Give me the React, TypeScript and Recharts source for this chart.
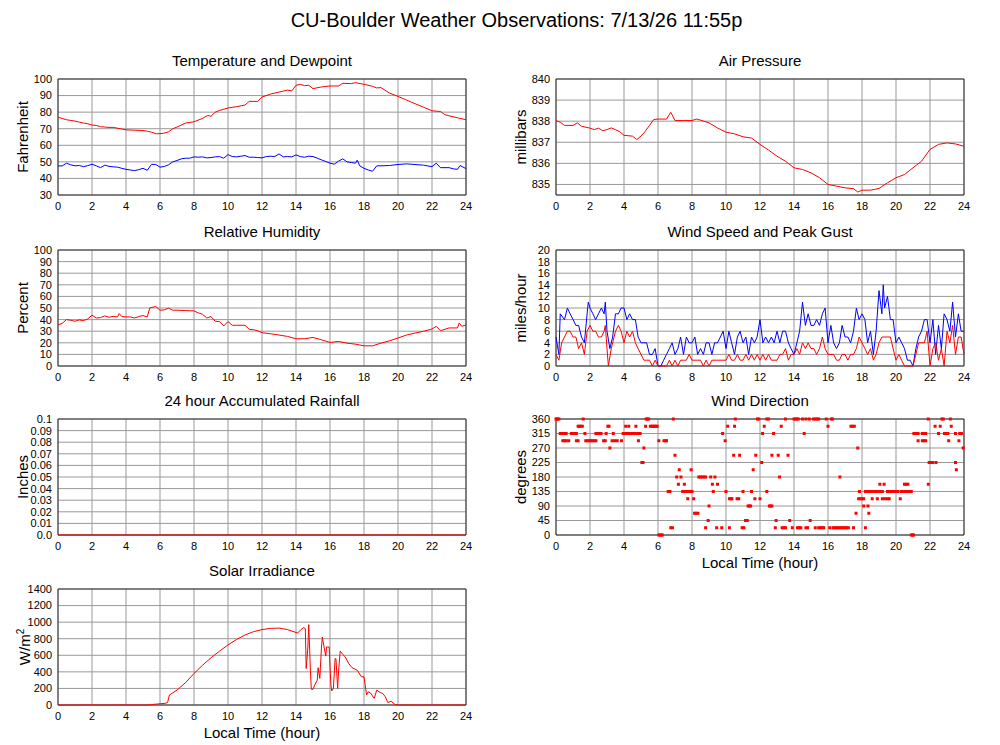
import React from 'react';
import {
  ComposedChart,
  Line,
  Scatter,
  XAxis,
  YAxis,
  CartesianGrid,
  ReferenceArea,
} from 'recharts';

// hour ticks shared by every panel
const hourTicks = [0, 2, 4, 6, 8, 10, 12, 14, 16, 18, 20, 22, 24];

// [hour, value] readings
const temperature = [
  [0, 76.9], [0.25, 76.2], [0.5, 75.4], [0.75, 75], [1, 74.6], [1.25, 74], [1.5, 73.4], [1.75, 73],
  [2, 72.2], [2.25, 72], [2.5, 71.2], [2.75, 71], [3, 70.8], [3.25, 70.8], [3.5, 70.3], [3.75, 69.8],
  [4, 69.3], [4.5, 69.1], [5, 68.9], [5.25, 68.5], [5.5, 67.9], [5.8, 66.9], [6.2, 67.2], [6.5, 68.1],
  [6.75, 70], [7, 71], [7.5, 73.4], [8, 74.2], [8.5, 76.2], [8.8, 78], [9, 77.5], [9.25, 80],
  [9.5, 81], [10, 82.5], [10.5, 83.3], [11, 84.3], [11.25, 86.5], [11.75, 86.5], [12, 89.1], [12.5, 90.9],
  [13, 92.1], [13.5, 93.3], [13.75, 92.8], [14, 96.2], [14.25, 96.8], [14.5, 96], [14.75, 96.2], [15, 94.2],
  [15.5, 95.2], [16, 95.8], [16.5, 95.8], [16.75, 97.4], [17.25, 97.2], [17.5, 97.8], [18, 96.8], [18.5, 95.6],
  [18.75, 94.6], [19, 94.8], [19.5, 91.5], [20, 89.5], [20.5, 87.3], [21, 85.1], [21.5, 83], [22, 80.8],
  [22.5, 80.4], [22.75, 78.5], [23, 77.8], [23.5, 76.6], [24, 75.4],
];

const dewpoint = [
  [0, 47.5], [0.25, 47.6], [0.5, 49.2], [0.75, 48.2], [1, 47.6], [1.25, 47.8], [1.5, 47.1], [1.75, 47.7],
  [2, 48.6], [2.25, 47.6], [2.5, 46.5], [2.75, 48], [3, 47.3], [3.25, 47], [3.5, 46.8], [3.75, 46.1],
  [4, 45.5], [4.25, 45.1], [4.5, 44.7], [4.75, 45.3], [5, 46.1], [5.25, 44.9], [5.5, 48.5], [5.75, 48.4],
  [6, 46.8], [6.25, 47.2], [6.5, 48.2], [6.75, 50], [7, 50.8], [7.25, 51.8], [7.5, 52.2], [7.75, 52.2],
  [8, 53], [8.25, 52.8], [8.5, 53], [8.75, 52.4], [9, 52.6], [9.25, 53], [9.5, 53.2], [9.75, 52.2],
  [10, 54.4], [10.25, 53.2], [10.5, 53], [10.75, 53.4], [11, 53.8], [11.25, 52.8], [11.5, 52.8], [11.75, 52.6],
  [12, 52.4], [12.25, 53.2], [12.5, 53.4], [12.75, 53.2], [13, 54.8], [13.25, 53], [13.5, 53.2], [13.75, 53],
  [14, 54.2], [14.25, 53.2], [14.5, 52.8], [14.75, 53.4], [15, 53.2], [15.25, 52.2], [15.5, 51.2], [15.75, 50.2],
  [16, 49.2], [16.25, 48.6], [16.5, 50.4], [16.75, 51.8], [17, 50], [17.25, 49.6], [17.5, 49.2], [17.6, 51],
  [17.75, 47.6], [18, 46.1], [18.25, 45.1], [18.5, 44.3], [18.75, 47.6], [19, 47.6], [19.5, 47.8], [20, 48.4],
  [20.5, 48.8], [21, 48.4], [21.5, 48], [22, 47.1], [22.25, 49.2], [22.5, 46.5], [23, 46.5], [23.25, 45.8],
  [23.5, 45.5], [23.65, 47.8], [24, 45.9],
];

const humidity = [
  [0, 35.4], [0.25, 36.8], [0.5, 40], [0.75, 39.4], [1, 38.6], [1.25, 39.7], [1.5, 39.1], [1.75, 40.6],
  [2, 43.8], [2.25, 41.4], [2.5, 41.7], [2.75, 43.2], [3, 42], [3.25, 42.8], [3.5, 42.3], [3.6, 45.2],
  [3.75, 42.6], [4, 42.3], [4.25, 42.3], [4.5, 41.4], [4.75, 42.6], [5, 43.5], [5.25, 42.3], [5.4, 50.1],
  [5.75, 51.3], [6, 48.1], [6.25, 48.4], [6.5, 49.9], [6.75, 48.1], [7, 48.1], [7.5, 47.8], [8, 47.5],
  [8.25, 45.8], [8.5, 44.6], [8.75, 41.4], [9, 42.6], [9.25, 38.6], [9.5, 38.3], [9.75, 34.5], [10, 38.3],
  [10.25, 35.1], [10.5, 35.1], [11, 35.1], [11.25, 31.6], [11.5, 31.3], [11.75, 30.4], [12, 28.7], [12.5, 27.8],
  [13, 26.7], [13.5, 25.5], [14, 23.5], [14.5, 23.5], [15, 24.6], [15.5, 22.6], [16, 20.3], [16.5, 21.2],
  [17, 19.7], [17.5, 18.8], [18, 17.4], [18.5, 17.4], [19, 19.7], [19.5, 21.7], [20, 24.1], [20.5, 26.7],
  [21, 28.4], [21.5, 29.9], [22, 31.9], [22.25, 34.2], [22.5, 30.4], [23, 32.8], [23.5, 32.8], [23.6, 37.1],
  [23.75, 34.2], [24, 35.4],
];

const rainfall = [
  [0, 0], [24, 0],
];

const solar = [
  [0, 0], [5.3, 0], [5.5, 5], [6, 15], [6.3, 20], [6.45, 30], [6.55, 120], [7, 180],
  [7.5, 270], [8, 380], [8.5, 480], [9, 570], [9.5, 650], [10, 725], [10.5, 790], [11, 845],
  [11.5, 885], [12, 910], [12.5, 925], [13, 928], [13.5, 910], [14, 875], [14.1, 870], [14.3, 910],
  [14.45, 935], [14.55, 920], [14.6, 440], [14.7, 700], [14.75, 970], [14.85, 400], [14.9, 190], [15, 190],
  [15.1, 240], [15.25, 300], [15.3, 450], [15.4, 320], [15.5, 700], [15.55, 820], [15.65, 700], [15.75, 590],
  [15.8, 700], [15.95, 700], [16.05, 250], [16.1, 170], [16.2, 200], [16.3, 560], [16.35, 560], [16.45, 200],
  [16.5, 400], [16.6, 650], [16.75, 610], [16.9, 580], [17.1, 500], [17.3, 450], [17.6, 420], [17.85, 340],
  [18, 340], [18.15, 120], [18.25, 160], [18.4, 140], [18.6, 80], [18.75, 180], [18.95, 150], [19.1, 140],
  [19.25, 100], [19.4, 30], [19.6, 45], [19.8, 10], [20, 0], [24, 0],
];

const pressure = [
  [0, 838.03], [0.25, 837.95], [0.5, 837.8], [1, 837.8], [1.25, 837.92], [1.5, 837.76], [2, 837.67], [2.25, 837.6],
  [2.5, 837.67], [2.75, 837.55], [3, 837.6], [3.25, 837.68], [3.5, 837.6], [3.75, 837.5], [4, 837.33], [4.5, 837.29],
  [4.75, 837.13], [5, 837.29], [5.25, 837.52], [5.5, 837.8], [5.75, 838.08], [6, 838.1], [6.5, 838.1], [6.75, 838.42],
  [7, 838.03], [7.5, 838.03], [8, 838.03], [8.25, 838.1], [8.5, 838.05], [9, 837.92], [9.5, 837.68], [10, 837.48],
  [10.5, 837.4], [11, 837.26], [11.5, 837.2], [12, 836.9], [12.5, 836.63], [13, 836.34], [13.5, 836.1], [14, 835.79],
  [14.5, 835.71], [15, 835.55], [15.5, 835.32], [16, 835], [16.5, 834.92], [17, 834.84], [17.5, 834.8], [17.75, 834.64],
  [18, 834.73], [18.5, 834.73], [19, 834.81], [19.5, 835.08], [20, 835.32], [20.5, 835.47], [21, 835.79], [21.5, 836.1],
  [22, 836.66], [22.5, 836.9], [23, 836.97], [23.5, 836.92], [24, 836.81],
];

const gust = [
  [0, 5], [0.17, 2], [0.25, 9], [0.5, 8], [0.67, 10], [0.83, 9], [1, 8], [1.17, 7],
  [1.33, 7], [1.5, 5], [1.67, 4], [1.83, 9], [1.9, 11], [2, 10], [2.17, 9], [2.33, 8],
  [2.5, 9], [2.67, 10], [2.83, 9], [2.9, 11], [3, 6], [3.17, 3], [3.33, 5], [3.5, 9],
  [3.67, 9], [3.83, 10], [4, 10], [4.17, 8], [4.33, 9], [4.5, 8], [4.67, 8], [4.83, 5],
  [5, 4], [5.17, 4], [5.33, 4], [5.5, 2], [5.67, 2], [5.83, 3], [6, 0], [6.17, 0],
  [6.33, 1], [6.5, 2], [6.67, 3], [6.83, 4], [7, 2], [7.17, 3], [7.33, 5], [7.5, 2],
  [7.67, 5], [7.83, 4], [8, 4], [8.17, 5], [8.33, 2], [8.5, 3], [8.67, 2], [8.83, 4],
  [9, 4], [9.17, 2], [9.33, 4], [9.5, 4], [9.67, 5], [9.83, 6], [10, 3], [10.17, 6],
  [10.33, 4], [10.5, 2], [10.67, 5], [10.83, 6], [11, 4], [11.17, 5], [11.33, 2], [11.5, 5],
  [11.67, 4], [11.83, 5], [12, 8], [12.17, 4], [12.33, 5], [12.5, 4], [12.67, 5], [12.83, 4],
  [13, 6], [13.17, 4], [13.33, 6], [13.5, 6], [13.67, 4], [13.83, 3], [14, 2], [14.17, 4],
  [14.33, 6], [14.5, 11], [14.67, 7], [14.83, 9], [15, 7], [15.17, 7], [15.33, 8], [15.5, 7],
  [15.67, 9], [15.83, 10], [16, 4], [16.17, 7], [16.33, 4], [16.5, 3], [16.67, 4], [16.83, 7],
  [17, 5], [17.17, 5], [17.33, 4], [17.5, 6], [17.67, 10], [17.83, 8], [18, 9], [18.17, 8],
  [18.33, 4], [18.5, 6], [18.67, 2], [18.83, 6], [19, 13], [19.17, 9], [19.25, 14], [19.33, 10],
  [19.5, 12], [19.67, 8], [19.83, 8], [20, 4], [20.17, 5], [20.33, 4], [20.5, 3], [20.67, 1],
  [20.83, 1], [21, 0], [21.17, 3], [21.33, 5], [21.5, 6], [21.67, 8], [21.83, 8], [22, 4],
  [22.17, 8], [22.33, 2], [22.5, 7], [22.67, 3], [22.83, 9], [23, 8], [23.17, 6], [23.33, 11],
  [23.5, 5], [23.67, 9], [23.83, 6], [24, 6],
];

const speed = [
  [0, 2], [0.17, 1], [0.33, 4], [0.5, 5], [0.67, 6], [0.83, 6], [1, 5], [1.17, 5],
  [1.33, 3], [1.5, 4], [1.67, 2], [1.83, 6], [2, 7], [2.17, 6], [2.33, 6], [2.5, 5],
  [2.67, 5], [2.83, 6], [2.9, 7], [3, 3], [3.08, 0], [3.25, 3], [3.5, 6], [3.67, 7],
  [3.83, 6], [4, 4], [4.17, 6], [4.33, 5], [4.5, 6], [4.67, 4], [4.83, 3], [5, 2],
  [5.17, 1], [5.33, 1], [5.5, 1], [5.67, 0], [5.83, 1], [6, 0], [6.17, 0], [6.33, 0],
  [6.5, 0], [6.67, 1], [6.83, 0], [7, 1], [7.17, 0], [7.33, 1], [7.5, 1], [7.67, 1],
  [7.83, 2], [8, 1], [8.17, 1], [8.33, 1], [8.5, 1], [8.67, 0], [8.83, 1], [9, 0],
  [9.17, 1], [9.5, 1], [10, 1], [10.17, 2], [10.33, 1], [10.5, 1], [10.67, 2], [10.83, 1],
  [11, 1], [11.17, 2], [11.33, 1], [11.5, 2], [11.67, 1], [11.83, 2], [12, 1], [12.17, 2],
  [12.33, 1], [12.5, 2], [12.67, 1], [12.83, 1], [13, 1], [13.17, 2], [13.33, 2], [13.5, 3],
  [13.67, 1], [13.83, 2], [14, 2], [14.17, 3], [14.33, 2], [14.5, 4], [14.67, 3], [14.83, 4],
  [15, 3], [15.17, 3], [15.33, 2], [15.5, 3], [15.67, 5], [15.83, 3], [16, 2], [16.17, 2],
  [16.33, 2], [16.5, 1], [16.67, 1], [16.83, 2], [17, 2], [17.17, 1], [17.33, 2], [17.5, 2],
  [17.67, 3], [17.83, 5], [18, 4], [18.17, 3], [18.33, 2], [18.5, 3], [18.67, 1], [18.83, 2],
  [19, 4], [19.17, 5], [19.33, 5], [19.5, 5], [19.67, 5], [19.83, 3], [20, 1], [20.17, 2],
  [20.33, 1], [20.5, 0], [20.67, 0], [20.83, 0], [21, 0], [21.17, 2], [21.33, 4], [21.5, 4],
  [21.67, 4], [21.83, 6], [22, 0], [22.17, 3], [22.33, 4], [22.5, 1], [22.67, 3], [22.83, 0],
  [23, 6], [23.17, 4], [23.33, 7], [23.5, 2], [23.67, 5], [23.83, 5], [24, 2],
];

const windDirection = [
  // 360
  [0, 360], [0.05, 360], [0.1, 360], [0.17, 360], [1.6, 360], [5.3, 360], [5.38, 360], [5.45, 360],
  [6.9, 360], [10.55, 360], [11.85, 360], [11.93, 360], [12.4, 360], [12.5, 360], [13.5, 360], [14, 360],
  [14.08, 360], [14.17, 360], [14.25, 360], [14.5, 360], [14.7, 360], [14.9, 360], [15.15, 360], [15.25, 360],
  [15.35, 360], [15.45, 360], [15.9, 360], [16.2, 360], [16.27, 360], [21.9, 360], [22.7, 360], [22.78, 360],
  [23.2, 360],
  // 337.5
  [1.3, 337.5], [1.38, 337.5], [1.46, 337.5], [1.55, 337.5], [3.05, 337.5], [3.12, 337.5], [4.1, 337.5], [4.28, 337.5],
  [4.7, 337.5], [5.27, 337.5], [5.55, 337.5], [5.63, 337.5], [5.71, 337.5], [5.79, 337.5], [5.87, 337.5], [5.95, 337.5],
  [10.1, 337.5], [10.5, 337.5], [12.25, 337.5], [13.25, 337.5], [16, 337.5], [17.35, 337.5], [17.45, 337.5], [17.55, 337.5],
  [22.3, 337.5], [22.6, 337.5], [23.25, 337.5],
  // 315
  [0.25, 315], [0.33, 315], [0.5, 315], [0.6, 315], [0.9, 315], [1, 315], [1.1, 315], [1.2, 315],
  [1.7, 315], [2.35, 315], [2.45, 315], [2.55, 315], [2.65, 315], [2.95, 315], [3.37, 315], [3.95, 315],
  [4.05, 315], [4.15, 315], [4.25, 315], [4.35, 315], [4.45, 315], [4.55, 315], [4.65, 315], [4.8, 315],
  [4.95, 315], [9.8, 315], [12.15, 315], [12.8, 315], [14.6, 315], [21.05, 315], [21.13, 315], [21.21, 315],
  [21.3, 315], [21.55, 315], [21.65, 315], [21.75, 315], [22.5, 315], [22.85, 315], [22.95, 315], [23.05, 315],
  [23.5, 315], [23.75, 315], [23.85, 315],
  // 292.5
  [0.4, 292.5], [0.5, 292.5], [0.6, 292.5], [0.75, 292.5], [1.2, 292.5], [1.3, 292.5], [1.75, 292.5], [1.85, 292.5],
  [1.95, 292.5], [2.05, 292.5], [2.15, 292.5], [2.25, 292.5], [2.35, 292.5], [2.8, 292.5], [2.9, 292.5], [3.3, 292.5],
  [3.45, 292.5], [3.6, 292.5], [3.85, 292.5], [4.85, 292.5], [6.05, 292.5], [6.35, 292.5], [6.45, 292.5], [6.5, 292.5],
  [9.95, 292.5], [21.3, 292.5], [21.55, 292.5], [21.65, 292.5], [21.75, 292.5], [23.1, 292.5], [23.7, 292.5],
  // 270
  [3.17, 270], [5.17, 270], [17.75, 270], [23.95, 270],
  // 247.5
  [7, 247.5], [10.45, 247.5], [10.8, 247.5], [11.75, 247.5], [12.7, 247.5], [13.07, 247.5], [13.65, 247.5],
  // 225
  [5.05, 225], [5.12, 225], [12.1, 225], [21.95, 225], [22.05, 225], [22.15, 225], [22.35, 225], [23.5, 225],
  // 202.5
  [7.25, 202.5], [7.95, 202.5], [11.6, 202.5], [23.55, 202.5],
  // 180
  [7.1, 180], [7.35, 180], [8.4, 180], [8.5, 180], [8.6, 180], [8.7, 180], [8.8, 180], [9.1, 180],
  [9.35, 180], [13.15, 180], [16.7, 180],
  // 157.5
  [7.2, 157.5], [7.55, 157.5], [9.2, 157.5], [9.5, 157.5], [19.05, 157.5], [19.3, 157.5], [20.5, 157.5], [20.6, 157.5],
  [20.7, 157.5], [21.9, 157.5],
  // 135
  [6.6, 135], [6.7, 135], [7.45, 135], [7.55, 135], [7.7, 135], [7.85, 135], [8, 135], [9.25, 135],
  [10, 135], [11, 135], [11.5, 135], [12.4, 135], [17.85, 135], [18.2, 135], [18.35, 135], [18.5, 135],
  [18.6, 135], [18.75, 135], [18.9, 135], [19.05, 135], [19.2, 135], [19.5, 135], [19.6, 135], [19.7, 135],
  [19.8, 135], [19.9, 135], [20, 135], [20.1, 135], [20.3, 135], [20.4, 135], [20.5, 135], [20.6, 135],
  [20.7, 135], [20.8, 135], [20.9, 135],
  // 112.5
  [7.75, 112.5], [8.1, 112.5], [10.2, 112.5], [10.3, 112.5], [10.35, 112.5], [10.65, 112.5], [10.75, 112.5], [11.7, 112.5],
  [12, 112.5], [17.8, 112.5], [17.9, 112.5], [18, 112.5], [18.1, 112.5], [18.6, 112.5], [18.9, 112.5], [19.2, 112.5],
  [19.35, 112.5], [19.5, 112.5], [19.6, 112.5], [20.25, 112.5],
  // 90
  [9, 90], [11.3, 90], [11.38, 90], [11.45, 90], [12.55, 90], [12.62, 90], [12.7, 90], [18.1, 90], [18.35, 90],
  // 67.5
  [8.15, 67.5], [8.25, 67.5], [8.35, 67.5], [17.65, 67.5], [18.4, 67.5],
  // 45
  [8.95, 45], [11.15, 45], [11.25, 45], [12.95, 45], [13.75, 45], [14.95, 45],
  // 22.5
  [6.75, 22.5], [6.85, 22.5], [8.8, 22.5], [9.45, 22.5], [9.75, 22.5], [10.2, 22.5], [10.95, 22.5], [11.05, 22.5],
  [12.9, 22.5], [13.3, 22.5], [13.4, 22.5], [13.5, 22.5], [13.9, 22.5], [14.2, 22.5], [14.3, 22.5], [14.4, 22.5],
  [14.7, 22.5], [14.8, 22.5], [15.25, 22.5], [15.45, 22.5], [15.55, 22.5], [15.65, 22.5], [15.75, 22.5], [16.1, 22.5],
  [16.3, 22.5], [16.4, 22.5], [16.5, 22.5], [16.6, 22.5], [16.7, 22.5], [16.8, 22.5], [16.9, 22.5], [17, 22.5],
  [17.1, 22.5], [17.2, 22.5], [17.5, 22.5], [18.2, 22.5],
  // 0
  [6.05, 0], [6.12, 0], [6.2, 0], [6.25, 0], [20.9, 0], [20.97, 0], [21.03, 0],
];

const tempTicks = [30, 40, 50, 60, 70, 80, 90, 100];
const percentTicks = [0, 10, 20, 30, 40, 50, 60, 70, 80, 90, 100];
const rainTicks = [0, 0.01, 0.02, 0.03, 0.04, 0.05, 0.06, 0.07, 0.08, 0.09, 0.1];
const solarTicks = [0, 200, 400, 600, 800, 1000, 1200, 1400];
const pressureTicks = [835, 836, 837, 838, 839, 840];
const windTicks = [0, 2, 4, 6, 8, 10, 12, 14, 16, 18, 20];
const dirTicks = [0, 45, 90, 135, 180, 225, 270, 315, 360];

const RED = '#ff0000';
const BLUE = '#0000ff';

const PLOT_W = 408;
const PLOT_H = 116;
const AXIS_W = 60;
const AXIS_H = 30;
const PAD_T = 10;
const PAD_R = 20;
const TICK_FONT = 11;

const LEFT_X = 58;
const RIGHT_X = 556;
const ROWS = [79, 250, 419, 589];

const rows = (pairs: number[][]) => pairs.map(([h, v]) => ({ h, v }));

const Square = (props: any) => (
  <rect x={props.cx - 1.5} y={props.cy - 1.5} width={3} height={3} fill={RED} />
);

const rainFmt = (v: number) => (v === 0 ? '0.0' : v === 0.1 ? '0.1' : v.toFixed(2));

interface PlotProps {
  left: number;
  top: number;
  title: string;
  yLabel: React.ReactNode;
  xLabel?: boolean;
  yDomain: [number, number];
  yTicks: number[];
  yFmt?: (v: number) => string;
  lines?: { data: number[][]; color: string }[];
  dots?: number[][];
}

const Plot = ({ left, top, title, yLabel, xLabel, yDomain, yTicks, yFmt, lines = [], dots }: PlotProps) => (
  <>
    <div
      style={{
        position: 'absolute',
        left,
        top: top - 27.5,
        width: PLOT_W,
        textAlign: 'center',
        fontSize: 15,
        lineHeight: '18px',
      }}
    >
      {title}
    </div>
    <div
      style={{
        position: 'absolute',
        left: left - 36,
        top: top + PLOT_H / 2,
        transform: 'translate(-50%, -50%) rotate(-90deg)',
        whiteSpace: 'nowrap',
        fontSize: 15,
        lineHeight: '15px',
      }}
    >
      {yLabel}
    </div>
    {xLabel && (
      <div
        style={{
          position: 'absolute',
          left,
          top: top + PLOT_H + 19,
          width: PLOT_W,
          textAlign: 'center',
          fontSize: 15,
          lineHeight: '18px',
        }}
      >
        Local Time (hour)
      </div>
    )}
    <div style={{ position: 'absolute', left: left - AXIS_W, top: top - PAD_T }}>
      <ComposedChart
        width={AXIS_W + PLOT_W + PAD_R}
        height={PAD_T + PLOT_H + AXIS_H}
        margin={{ top: PAD_T, right: PAD_R, bottom: 0, left: 0 }}
      >
        <CartesianGrid stroke="#999" />
        <XAxis
          type="number"
          dataKey="h"
          domain={[0, 24]}
          ticks={hourTicks}
          interval={0}
          height={AXIS_H}
          axisLine={false}
          tickLine={false}
          tickSize={5}
          tickMargin={2}
          tick={{ fontSize: TICK_FONT, fill: '#000' }}
        />
        <YAxis
          type="number"
          dataKey="v"
          domain={yDomain}
          ticks={yTicks}
          interval={0}
          width={AXIS_W}
          axisLine={false}
          tickLine={false}
          tickSize={5}
          tickMargin={1}
          tickFormatter={yFmt}
          tick={{ fontSize: TICK_FONT, fill: '#000' }}
        />
        <ReferenceArea x1={0} x2={24} y1={yDomain[0]} y2={yDomain[1]} fill="none" stroke="#333" />
        {lines.map((l, i) => (
          <Line
            key={i}
            data={rows(l.data)}
            dataKey="v"
            type="linear"
            stroke={l.color}
            strokeWidth={1}
            dot={false}
            isAnimationActive={false}
          />
        ))}
        {dots && (
          <Scatter data={rows(dots)} dataKey="v" shape={Square} isAnimationActive={false} />
        )}
      </ComposedChart>
    </div>
  </>
);

export default function App() {
  return (
    <div
      style={{
        position: 'absolute',
        left: 0,
        top: 0,
        width: 1000,
        height: 745,
        background: '#fff',
        fontFamily: '"Liberation Sans", Arial, sans-serif',
        color: '#000',
      }}
    >
      <div
        style={{
          position: 'absolute',
          left: 0,
          top: 8,
          width: 1033,
          textAlign: 'center',
          fontSize: 20,
          lineHeight: '24px',
        }}
      >
        CU-Boulder Weather Observations: 7/13/26 11:55p
      </div>

      <Plot
        left={LEFT_X}
        top={ROWS[0]}
        title="Temperature and Dewpoint"
        yLabel="Fahrenheit"
        yDomain={[30, 100]}
        yTicks={tempTicks}
        lines={[
          { data: temperature, color: RED },
          { data: dewpoint, color: BLUE },
        ]}
      />
      <Plot
        left={LEFT_X}
        top={ROWS[1]}
        title="Relative Humidity"
        yLabel="Percent"
        yDomain={[0, 100]}
        yTicks={percentTicks}
        lines={[{ data: humidity, color: RED }]}
      />
      <Plot
        left={LEFT_X}
        top={ROWS[2]}
        title="24 hour Accumulated Rainfall"
        yLabel="Inches"
        yDomain={[0, 0.1]}
        yTicks={rainTicks}
        yFmt={rainFmt}
        lines={[{ data: rainfall, color: RED }]}
      />
      <Plot
        left={LEFT_X}
        top={ROWS[3]}
        title="Solar Irradiance"
        yLabel={
          <span>
            W/m<sup style={{ fontSize: 10 }}>2</sup>
          </span>
        }
        xLabel
        yDomain={[0, 1400]}
        yTicks={solarTicks}
        lines={[{ data: solar, color: RED }]}
      />

      <Plot
        left={RIGHT_X}
        top={ROWS[0]}
        title="Air Pressure"
        yLabel="millibars"
        yDomain={[834.5, 840]}
        yTicks={pressureTicks}
        lines={[{ data: pressure, color: RED }]}
      />
      <Plot
        left={RIGHT_X}
        top={ROWS[1]}
        title="Wind Speed and Peak Gust"
        yLabel="miles/hour"
        yDomain={[0, 20]}
        yTicks={windTicks}
        lines={[
          { data: gust, color: BLUE },
          { data: speed, color: RED },
        ]}
      />
      <Plot
        left={RIGHT_X}
        top={ROWS[2]}
        title="Wind Direction"
        yLabel="degrees"
        xLabel
        yDomain={[0, 360]}
        yTicks={dirTicks}
        dots={windDirection}
      />
    </div>
  );
}
